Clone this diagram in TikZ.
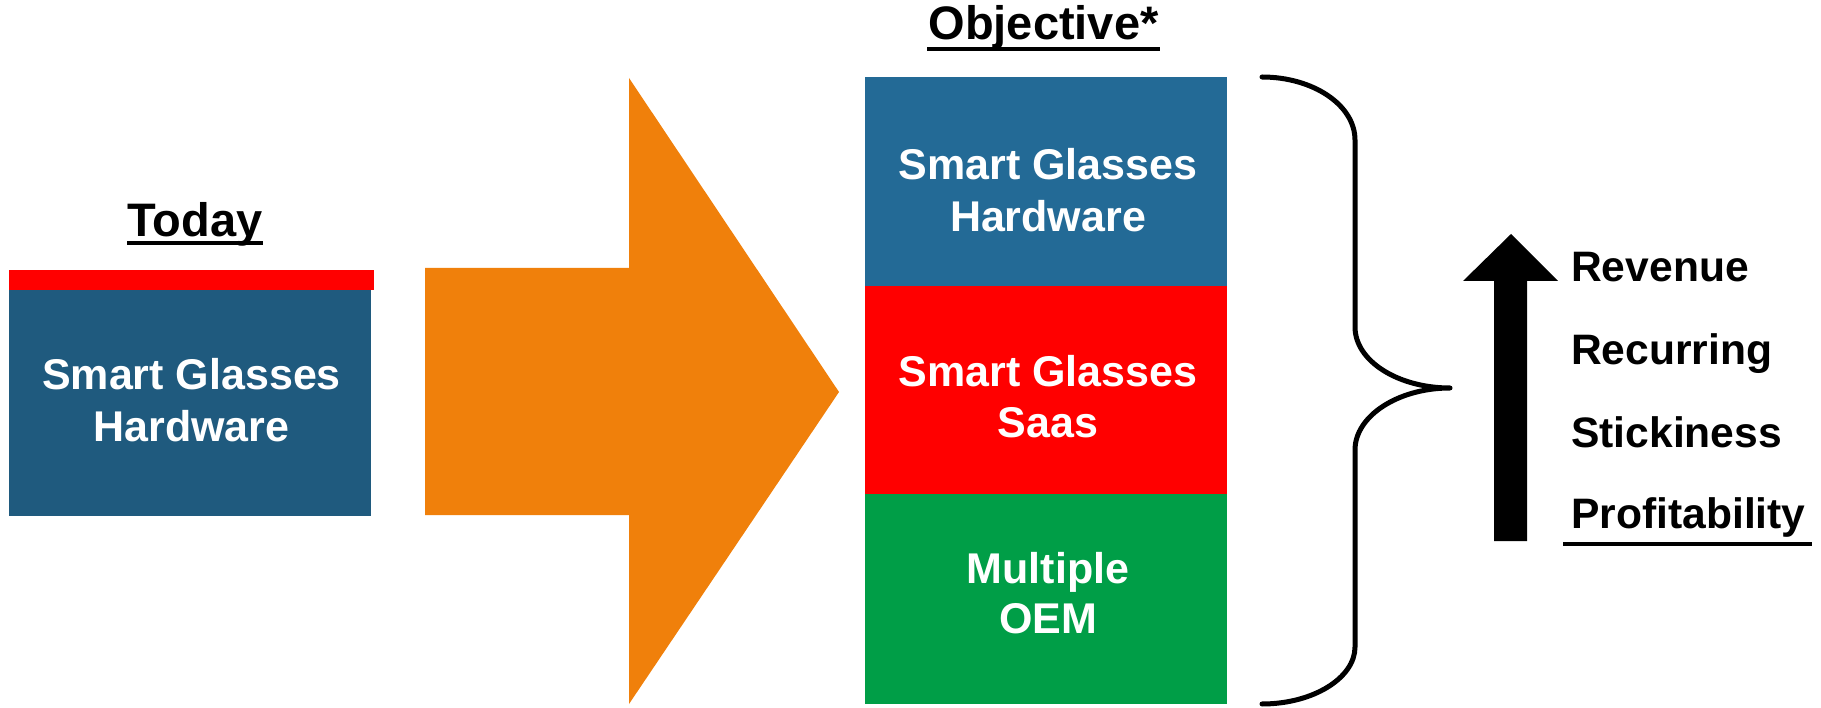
\documentclass[tikz,border=0pt]{standalone}
\usepackage{fontspec}
\setmainfont{Liberation Sans}
\definecolor{todayblue}{HTML}{1F5A7E}
\definecolor{objblue}{HTML}{236A96}
\definecolor{objred}{HTML}{FF0000}
\definecolor{objgreen}{HTML}{009E47}
\definecolor{arroworange}{HTML}{F0800B}
\begin{document}
\begin{tikzpicture}[x=1pt,y=-1pt,
  box/.style={draw=none,inner sep=0pt,outer sep=0pt,anchor=north west},
  boxtext/.style={font=\fontsize{43}{50}\selectfont\bfseries,text=white,anchor=base,inner sep=0pt},
  titletext/.style={font=\fontsize{47}{56}\selectfont\bfseries,anchor=base,inner sep=0pt},
  itemtext/.style={font=\fontsize{42.6}{50}\selectfont\bfseries,anchor=base west,inner sep=0pt},
  rule/.style={line width=4.5pt}]
\useasboundingbox (0,0) rectangle (1821,708);

% Today
\node[titletext] (todaytitle) at (195,237) {Today};
\draw[rule] (127,243) -- (263,243);
\node[box,fill=objred,minimum width=365pt,minimum height=20pt] (redbar) at (9,270) {};
\node[box,fill=todayblue,minimum width=362pt,minimum height=226pt] (todaybox) at (9,290) {};
\node[boxtext] (t1) at (191.5,390) {Smart Glasses};
\node[boxtext] (t2) at (191.5,442) {Hardware};

% Orange arrow
\fill[arroworange] (425,268) -- (629,268) -- (629,78) -- (839,392) -- (629,704) -- (629,515) -- (425,515) -- cycle;

% Objective
\node[titletext] (objtitle) at (1043.5,40) {Objective*};
\draw[rule] (927,49) -- (1160,49);
\node[box,fill=objblue,minimum width=362pt,minimum height=209pt] (hw) at (865,77) {};
\node[box,fill=objred,minimum width=362pt,minimum height=208pt] (saas) at (865,286) {};
\node[box,fill=objgreen,minimum width=362pt,minimum height=210pt] (oem) at (865,494) {};
\node[boxtext] (o1) at (1048,180) {Smart Glasses};
\node[boxtext] (o2) at (1048,232) {Hardware};
\node[boxtext] (o3) at (1048,387) {Smart Glasses};
\node[boxtext] (o4) at (1048,438) {Saas};
\node[boxtext] (o5) at (1048,583) {Multiple};
\node[boxtext] (o6) at (1048,633) {OEM};

% Brace
\draw[line width=5pt,line cap=round,line join=round]
  (1262,77) .. controls (1313,77) and (1355,105) .. (1355,140)
  -- (1355,327) .. controls (1355,361) and (1398,388) .. (1450,388)
  .. controls (1398,388) and (1355,416) .. (1355,450)
  -- (1355,647) .. controls (1355,678) and (1313,704) .. (1262,704);

% Up arrow
\fill (1494,541) -- (1494,281) -- (1463,281) -- (1511,234) -- (1558,281) -- (1527,281) -- (1527,541) -- cycle;

% Items
\node[itemtext] (rev) at (1571,282) {Revenue};
\node[itemtext] (rec) at (1571,365) {Recurring};
\node[itemtext] (sti) at (1571,448) {Stickiness};
\node[itemtext] (pro) at (1571,528) {Profitability};
\draw[rule] (1563,544) -- (1812,544);
\end{tikzpicture}
\end{document}
